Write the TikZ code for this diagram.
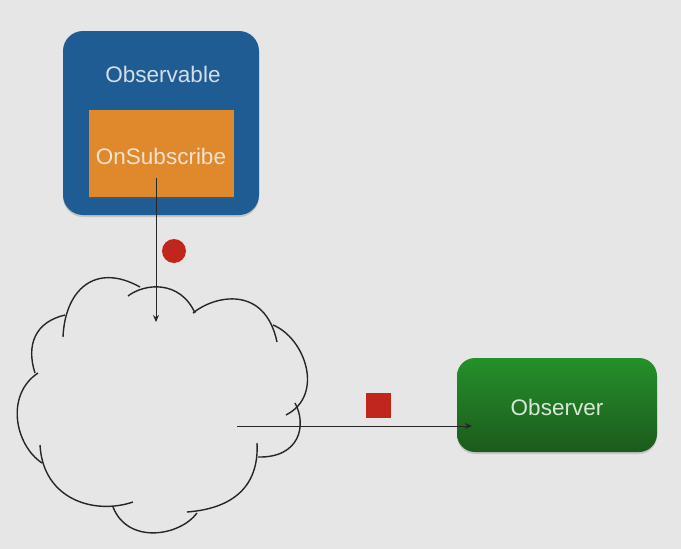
\documentclass[tikz,border=0pt]{standalone}
\usepackage{fontspec}
\setmainfont{Liberation Sans}
\usetikzlibrary{arrows.meta,shadows}
\definecolor{bg}{HTML}{E6E6E6}
\definecolor{obsblue}{HTML}{1F5C93}
\definecolor{subor}{HTML}{E0882C}
\definecolor{grtop}{HTML}{25902A}
\definecolor{grbot}{HTML}{1C5A1D}
\definecolor{dotred}{HTML}{C0261C}
\definecolor{txtblue}{HTML}{D5DEE8}
\definecolor{txtor}{HTML}{F3E3D0}
\definecolor{txtgr}{HTML}{D8E8D8}
\tikzset{
  boxtext/.style={font=\fontsize{22.5}{26}\selectfont, inner sep=0pt},
  cloudline/.style={line width=1.4pt, black!85},
  conn/.style={line width=1pt, black!85, -{Stealth[length=7pt,width=6pt]}},
  softshadow/.style={drop shadow={shadow xshift=0pt, shadow yshift=-2pt, opacity=0.25, fill=black!60}},
}
\begin{document}
\begin{tikzpicture}[x=1pt,y=-1pt]
\fill[bg] (0,0) rectangle (681,549);
\useasboundingbox (0,0) rectangle (681,549);
% Observable
\node[fill=obsblue, softshadow, rounded corners=20pt, minimum width=196pt, minimum height=184pt, inner sep=0pt] (obs) at (161,123) {};
\node[boxtext, text=txtblue] (obslabel) at (163,74) {Observable};
\node[fill=subor, softshadow, minimum width=145pt, minimum height=87pt, inner sep=0pt] (onsub) at (161.5,153.5) {};
\node[boxtext, text=txtor] (onsublabel) at (161,156) {OnSubscribe};
% Observer
\node[top color=grtop, bottom color=grbot, softshadow, rounded corners=18pt, minimum width=200pt, minimum height=94pt, inner sep=0pt] (observer) at (557,405) {};
\node[boxtext, text=txtgr] (observerlabel) at (557,407) {Observer};
% Cloud
\draw[cloudline] (63,337) .. controls (65,290) and (95,262) .. (140,287);
\draw[cloudline] (128,296) .. controls (145,283) and (180,280) .. (195,313);
\draw[cloudline] (193,313) .. controls (215,295) and (265,285) .. (277,342);
\draw[cloudline] (273,325) .. controls (305,338) and (325,395) .. (286,415);
\draw[cloudline] (295,403) .. controls (307,425) and (300,458) .. (258,457);
\draw[cloudline] (257,443) .. controls (259,480) and (240,508) .. (187,512);
\draw[cloudline] (197,513) .. controls (180,536) and (128,545) .. (113,507);
\draw[cloudline] (133,502) .. controls (95,515) and (43,500) .. (40,445);
\draw[cloudline] (42,463) .. controls (15,445) and (5,395) .. (38,373);
\draw[cloudline] (35,373) .. controls (26,345) and (35,322) .. (65,315);
% markers
\node[circle, fill=dotred, minimum size=24pt, inner sep=0pt] (dot) at (174,251) {};
\node[rectangle, fill=dotred, minimum size=25pt, inner sep=0pt] (sq) at (378.5,405.5) {};
% connectors
\coordinate (subout) at (156,178);
\coordinate (cloudin) at (156,322);
\coordinate (cloudout) at (237,426);
\coordinate (obsin) at (472,426);
\draw[conn] (subout) -- (cloudin);
\draw[conn] (cloudout) -- (obsin);
\end{tikzpicture}
\end{document}
